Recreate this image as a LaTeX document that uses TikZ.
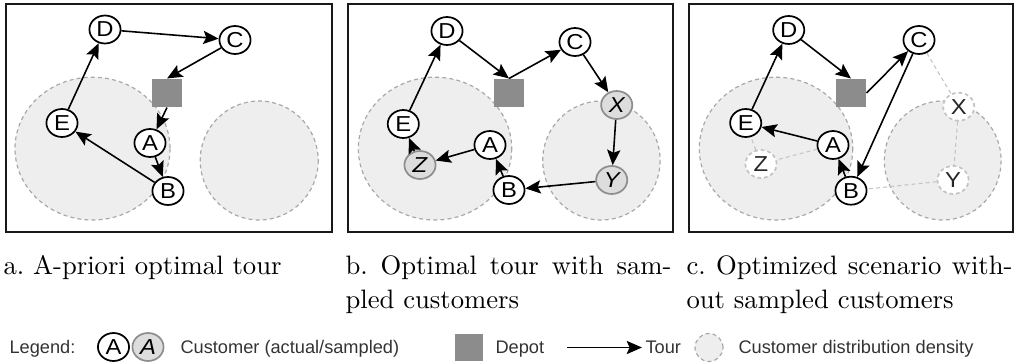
\documentclass[tikz,border=0pt]{standalone}
\usepackage{fontspec}
\setsansfont{Liberation Sans}
\usetikzlibrary{arrows.meta,shapes.geometric}
\definecolor{densfill}{HTML}{EEEEEE}
\definecolor{densline}{HTML}{A8A8A8}
\definecolor{depotc}{HTML}{8C8C8C}
\definecolor{sampfill}{HTML}{DDDDDD}
\definecolor{sampline}{HTML}{8E8E8E}
\definecolor{legtext}{HTML}{333333}
\definecolor{ghostc}{HTML}{C4C4C4}
\newcommand{\custlab}[1]{\scalebox{1.1}[1]{#1}}
\tikzset{
 cust/.style={ellipse, draw=black, fill=white, line width=0.65pt, minimum width=11.8pt, minimum height=10.6pt, inner sep=0pt, font=\sffamily\fontsize{8.2}{8.5}\selectfont},
 samp/.style={cust, draw=sampline, fill=sampfill},
 ghost/.style={cust, draw=ghostc, dash pattern=on 1.4pt off 1.1pt, fill=white, text=black!85},
 depotbox/.style={rectangle, fill=depotc, minimum width=11.4pt, minimum height=10.6pt, inner sep=0pt},
 densarea/.style={fill=densfill, draw=densline, dash pattern=on 1.5pt off 1.2pt, line width=0.45pt},
 tour/.style={-{Stealth[length=5.8pt,width=5pt,inset=1.1pt]}, line width=0.6pt},
 ghostline/.style={draw=ghostc, dash pattern=on 1.5pt off 1.2pt, line width=0.4pt},
 panel/.style={draw=black!90, line width=0.7pt},
 captext/.style={anchor=north west, inner sep=0pt, text width=123.5pt, align=justify, font=\fontsize{10.1}{12.9}\selectfont\frenchspacing},
 legtxt/.style={anchor=base west, inner sep=0pt, text=legtext, font=\sffamily\fontsize{6.9}{8}\selectfont},
}
\begin{document}
\begin{tikzpicture}[x=0.3788pt, y=-0.3788pt]
\useasboundingbox (0,0) rectangle (1016,363);

% ---------- panel a ----------
\draw[densarea] (92.5,148.6) ellipse [x radius=77.5, y radius=71.4];
\draw[densarea] (259.2,160.5) ellipse [x radius=59, y radius=59.5];
\node[depotbox] (adep) at (167,93) {};
\node[cust] (aD) at (105,29.5) {\custlab{D}};
\node[cust] (aC) at (235,40) {\custlab{C}};
\node[cust] (aE) at (62,123) {\custlab{E}};
\node[cust] (aA) at (150,143) {\custlab{A}};
\node[cust] (aB) at (168,191) {\custlab{B}};
\draw[tour] (aD) -- (aC);
\draw[tour] (aC) -- (adep.north);
\draw[tour] (adep.south) -- (aA);
\draw[tour] (aA) -- (aB);
\draw[tour] (aB) -- (aE);
\draw[tour] (aE) -- (aD);
\draw[panel] (6,4) rectangle (332,232);

% ---------- panel b ----------
\draw[densarea] (435,148.6) ellipse [x radius=76.7, y radius=71.4];
\draw[densarea] (601.4,160.5) ellipse [x radius=58.7, y radius=59.5];
\node[depotbox] (bdep) at (509,93) {};
\node[cust] (bD) at (447,31) {\custlab{D}};
\node[cust] (bC) at (575,42) {\custlab{C}};
\node[samp] (bX) at (616.7,105) {\custlab{\itshape X}};
\node[samp] (bY) at (611.7,180) {\custlab{\itshape Y}};
\node[cust] (bB) at (509,190) {\custlab{B}};
\node[cust] (bA) at (490,145) {\custlab{A}};
\node[samp] (bZ) at (420,165) {\custlab{\itshape Z}};
\node[cust] (bE) at (403.3,124) {\custlab{E}};
\draw[tour] (bD) -- (bdep.north);
\draw[tour] (bdep.north) -- (bC);
\draw[tour] (bC) -- (bX);
\draw[tour] (bX) -- (bY);
\draw[tour] (bY) -- (bB);
\draw[tour] (bB) -- (bA);
\draw[tour] (bA) -- (bZ);
\draw[tour] (bZ) -- (bE);
\draw[tour] (bE) -- (bD);
\draw[panel] (348,4) rectangle (673,232);

% ---------- panel c ----------
\draw[densarea] (776,148.6) ellipse [x radius=76.7, y radius=71.4];
\draw[densarea] (942.7,160.5) ellipse [x radius=58.4, y radius=59.5];
\node[depotbox] (cdep) at (851,93) {};
\node[cust] (cD) at (788.7,30) {\custlab{D}};
\node[cust] (cC) at (919,40) {\custlab{C}};
\node[cust] (cE) at (745.7,123) {\custlab{E}};
\node[cust] (cA) at (833,145) {\custlab{A}};
\node[cust] (cB) at (851,190.7) {\custlab{B}};
\node[ghost] (cZ) at (761,164) {\custlab{Z}};
\node[ghost] (cX) at (958.7,106.7) {\custlab{X}};
\node[ghost] (cY) at (953,180) {\custlab{Y}};
\draw[ghostline] (cC) -- (cX);
\draw[ghostline] (cX) -- (cY);
\draw[ghostline] (cY) -- (cB);
\draw[ghostline] (cA) -- (cZ);
\draw[ghostline] (cZ) -- (cE);
\draw[tour] (cD) -- (cdep.north);
\draw[tour] (cdep.east) -- (cC);
\draw[tour] (cC) -- (cB);
\draw[tour] (cB) -- (cA);
\draw[tour] (cA) -- (cE);
\draw[tour] (cE) -- (cD);
\draw[panel] (689,4) rectangle (1013,232);

% ---------- captions ----------
\node[captext] (capa) at (3,255.3) {a. A-priori optimal tour};
\node[captext] (capb) at (345,255.3) {b. Optimal tour with sam-\linebreak pled customers};
\node[captext] (capc) at (686,255.3) {c. Optimized scenario with-\linebreak out sampled customers};

% ---------- legend ----------
\node[legtxt] (lleg) at (9,353) {Legend:};
\node[cust] (lA) at (113.5,347) {\custlab{A}};
\node[samp] (lS) at (148,347) {\custlab{\itshape A}};
\node[legtxt] (lcust) at (180,353) {Customer (actual/sampled)};
\node[depotbox, minimum width=10.6pt, minimum height=10.6pt] (ldep) at (469,347.5) {};
\node[legtxt] (ldeptxt) at (495,353) {Depot};
\coordinate (lt1) at (567,347.5);
\coordinate (lt2) at (642,347.5);
\draw[tour] (lt1) -- (lt2);
\node[legtxt] (ltour) at (645,353) {Tour};
\node[circle, densarea, minimum size=10.6pt, inner sep=0pt] (ldens) at (709,347.5) {};
\node[legtxt] (ldenstxt) at (738,353) {Customer distribution density};
\end{tikzpicture}
\end{document}
